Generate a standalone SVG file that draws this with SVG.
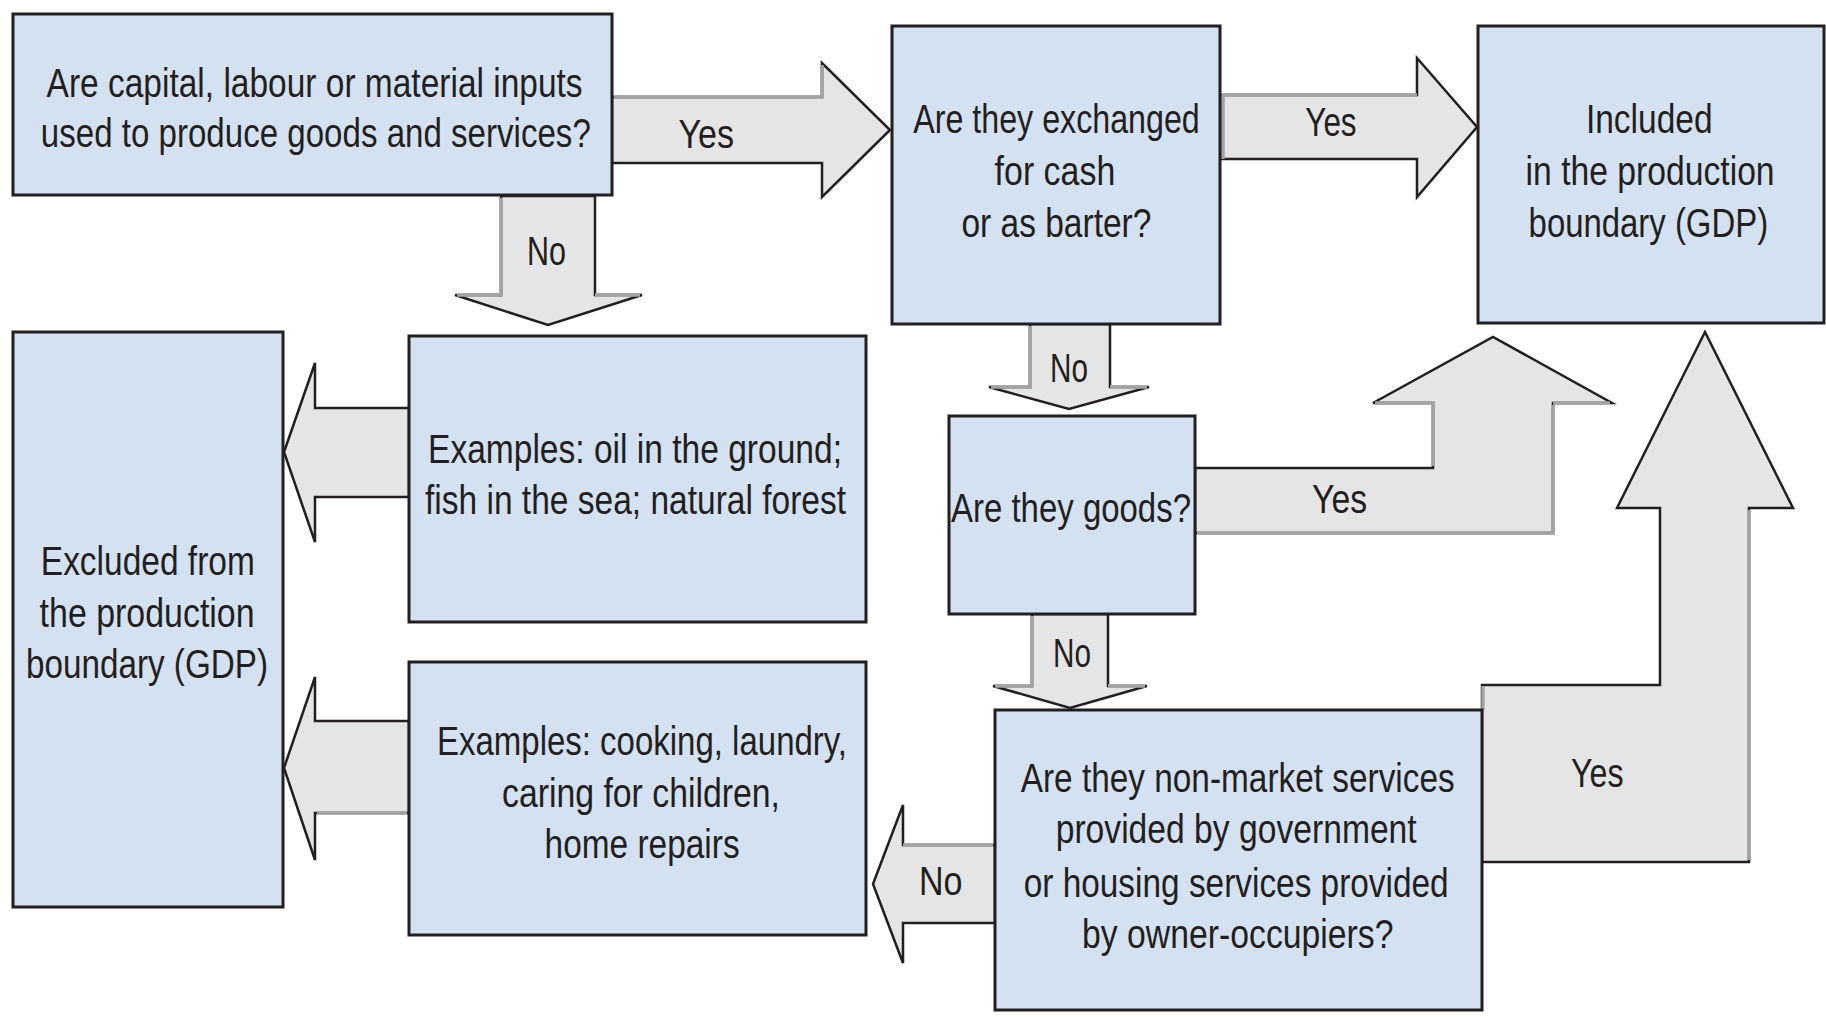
<svg xmlns="http://www.w3.org/2000/svg" width="1826" height="1017" viewBox="0 0 1826 1017">
<style>
.bg{fill:#ffffff}
.box{fill:#d4e1f1;stroke:#231f20;stroke-width:3}
.arr{fill:#e5e5e5;stroke:#231f20;stroke-width:2.5;stroke-linejoin:miter}
.sh{fill:none;stroke:#a3a3a3;stroke-width:3.5}
.t{font-family:"Liberation Sans","Arial",sans-serif;font-size:41px;fill:#231f20}
</style>
<rect class="bg" x="0" y="0" width="1826" height="1017"/>
<g id="connectors">
  <g id="c-yes1">
    <polygon class="arr" points="612,97 822,97 822,63 890,130 822,197 822,163 612,163"/>
    <path class="sh" d="M614,97 H822 V65"/>
    <text class="t" x="678.5" y="148" textLength="55.5" lengthAdjust="spacingAndGlyphs">Yes</text>
  </g>
  <g id="c-yes2">
    <polygon class="arr" points="1220,95 1417,95 1417,58 1477,127 1417,197 1417,159 1220,159"/>
    <path class="sh" d="M1223,159 V95 H1417"/>
    <text class="t" x="1305.3" y="136" textLength="51.3" lengthAdjust="spacingAndGlyphs">Yes</text>
  </g>
  <g id="c-no1">
    <polygon class="arr" points="501,196 501,295 455,295 548,325 642,295 595,295 595,196"/>
    <path class="sh" d="M501,198 V295 H457 M595,295 H640"/>
    <text class="t" x="527" y="265" textLength="39" lengthAdjust="spacingAndGlyphs">No</text>
  </g>
  <g id="c-excl1">
    <polygon class="arr" points="409,408 315,408 315,363 284,452 315,542 315,497 409,497"/>
  </g>
  <g id="c-excl2">
    <polygon class="arr" points="409,721 315,721 315,677 284,768 315,860 315,813 409,813"/>
    <path class="sh" d="M407,813 H317"/>
  </g>
  <g id="c-no2">
    <polygon class="arr" points="1030,324 1030,387 989,387 1069,409 1149,387 1110,387 1110,324"/>
    <path class="sh" d="M1030,326 V387 H991 M1110,387 H1147"/>
    <text class="t" x="1050" y="382" textLength="38" lengthAdjust="spacingAndGlyphs">No</text>
  </g>
  <g id="c-yes3">
    <polygon class="arr" points="1195,468 1433,468 1433,403 1373,403 1493,337 1612,403 1553,403 1553,533 1195,533"/>
    <path class="sh" d="M1433,466 V403 H1375 M1553,403 H1610 M1553,405 V533 H1197"/>
    <text class="t" x="1312" y="513" textLength="55" lengthAdjust="spacingAndGlyphs">Yes</text>
  </g>
  <g id="c-no3">
    <polygon class="arr" points="1032,614 1032,686 993,686 1070,708 1147,686 1108,686 1108,614"/>
    <path class="sh" d="M1032,616 V686 H995 M1108,686 H1145"/>
    <text class="t" x="1053" y="667" textLength="38" lengthAdjust="spacingAndGlyphs">No</text>
  </g>
  <g id="c-yes4">
    <polygon class="arr" points="1482,685 1660,685 1660,508 1617,508 1705,332 1793,508 1749,508 1749,862 1482,862"/>
    <path class="sh" d="M1483,710 V686 M1749,510 V860"/>
    <text class="t" x="1571" y="787" textLength="52.5" lengthAdjust="spacingAndGlyphs">Yes</text>
  </g>
  <g id="c-no4">
    <polygon class="arr" points="995,845 903,845 903,805 873,884 903,963 903,923 995,923"/>
    <path class="sh" d="M993,845 H903"/>
    <text class="t" x="919" y="895" textLength="43.5" lengthAdjust="spacingAndGlyphs">No</text>
  </g>
</g>
<g id="n-inputs">
  <rect class="box" x="13" y="14" width="599" height="181"/>
  <text class="t" x="46.6" y="97" textLength="536" lengthAdjust="spacingAndGlyphs">Are capital, labour or material inputs</text>
  <text class="t" x="40.8" y="147" textLength="550" lengthAdjust="spacingAndGlyphs">used to produce goods and services?</text>
</g>
<g id="n-exchanged">
  <rect class="box" x="892" y="26" width="328" height="298"/>
  <text class="t" x="913.2" y="133" textLength="286.6" lengthAdjust="spacingAndGlyphs">Are they exchanged</text>
  <text class="t" x="994.6" y="185" textLength="120.7" lengthAdjust="spacingAndGlyphs">for cash</text>
  <text class="t" x="961.4" y="237" textLength="190" lengthAdjust="spacingAndGlyphs">or as barter?</text>
</g>
<g id="n-included">
  <rect class="box" x="1478" y="26" width="346" height="297"/>
  <text class="t" x="1585.9" y="133" textLength="126.7" lengthAdjust="spacingAndGlyphs">Included</text>
  <text class="t" x="1525.6" y="185" textLength="249" lengthAdjust="spacingAndGlyphs">in the production</text>
  <text class="t" x="1528.6" y="237" textLength="239.5" lengthAdjust="spacingAndGlyphs">boundary (GDP)</text>
</g>
<g id="n-excluded">
  <rect class="box" x="13" y="332" width="270" height="575"/>
  <text class="t" x="40.8" y="575" textLength="214" lengthAdjust="spacingAndGlyphs">Excluded from</text>
  <text class="t" x="39.6" y="627" textLength="215" lengthAdjust="spacingAndGlyphs">the production</text>
  <text class="t" x="26" y="678" textLength="242" lengthAdjust="spacingAndGlyphs">boundary (GDP)</text>
</g>
<g id="n-oil">
  <rect class="box" x="409" y="336" width="457" height="286"/>
  <text class="t" x="428" y="463" textLength="414" lengthAdjust="spacingAndGlyphs">Examples: oil in the ground;</text>
  <text class="t" x="425" y="514" textLength="421" lengthAdjust="spacingAndGlyphs">fish in the sea; natural forest</text>
</g>
<g id="n-goods">
  <rect class="box" x="949" y="416" width="246" height="198"/>
  <text class="t" x="951" y="522" textLength="240" lengthAdjust="spacingAndGlyphs">Are they goods?</text>
</g>
<g id="n-cooking">
  <rect class="box" x="409" y="662" width="457" height="273"/>
  <text class="t" x="437" y="755" textLength="410" lengthAdjust="spacingAndGlyphs">Examples: cooking, laundry,</text>
  <text class="t" x="502" y="807" textLength="278" lengthAdjust="spacingAndGlyphs">caring for children,</text>
  <text class="t" x="544.6" y="858" textLength="195" lengthAdjust="spacingAndGlyphs">home repairs</text>
</g>
<g id="n-nonmarket">
  <rect class="box" x="995" y="710" width="487" height="300"/>
  <text class="t" x="1020.7" y="792" textLength="434" lengthAdjust="spacingAndGlyphs">Are they non-market services</text>
  <text class="t" x="1055.7" y="843" textLength="361" lengthAdjust="spacingAndGlyphs">provided by government</text>
  <text class="t" x="1023.7" y="897" textLength="425" lengthAdjust="spacingAndGlyphs">or housing services provided</text>
  <text class="t" x="1082" y="948" textLength="311.5" lengthAdjust="spacingAndGlyphs">by owner-occupiers?</text>
</g>
</svg>
